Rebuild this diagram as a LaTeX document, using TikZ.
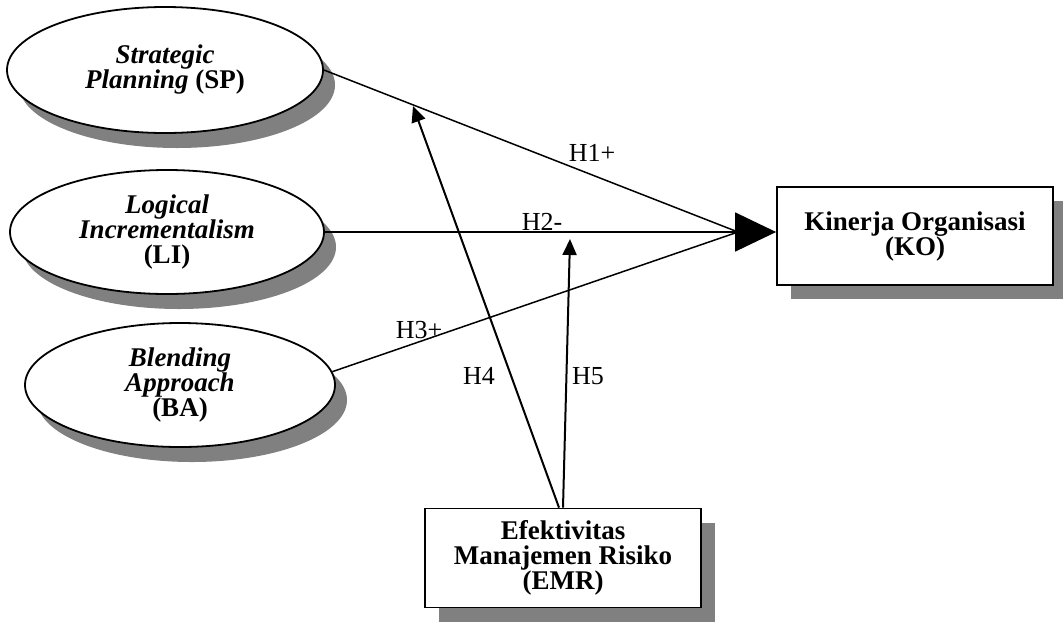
\documentclass[tikz,border=0pt]{standalone}
\usepackage{fontspec}
\setmainfont{Liberation Serif}
\usetikzlibrary{shapes.geometric,shadows,arrows.meta}

\begin{document}
\begin{tikzpicture}[x=0.5pt,y=-0.5pt,
  latent/.style={ellipse,draw,line width=0.9pt,fill=white,inner sep=0pt,align=center,
    minimum width=157pt,minimum height=62pt,
    drop shadow={shadow xshift=6pt,shadow yshift=-7.5pt,fill=black!50,opacity=1},
    font=\fontsize{13.5}{12.5}\selectfont\bfseries},
  construct/.style={rectangle,draw,line width=0.9pt,fill=white,inner sep=0pt,align=center,
    minimum width=138pt,minimum height=49pt,
    drop shadow={shadow xshift=7pt,shadow yshift=-7pt,fill=black!50,opacity=1},
    font=\fontsize{13.5}{12.5}\selectfont\bfseries},
  path/.style={line width=0.75pt},
  moderate/.style={line width=1pt,-{Triangle[length=8pt,width=7pt]}},
  hyp/.style={inner sep=0pt,font=\fontsize{13}{13}\selectfont}]
\useasboundingbox (0,0) rectangle (1063,622);

\node[latent,minimum width=158pt,minimum height=63pt] (sp) at (165,70) {\textit{Strategic}\\\textit{Planning} (SP)};
\node[latent] (li) at (167,232) {\textit{Logical}\\\textit{Incrementalism}\\(LI)};
\node[latent,minimum width=155pt] (ba) at (180,385) {\textit{Blending}\\\textit{Approach}\\(BA)};

\node[construct] (ko) at (915,236) {Kinerja Organisasi\\(KO)};
\node[construct,minimum height=49.5pt] (emr) at (563,558) {Efektivitas\\Manajemen Risiko\\(EMR)};

\coordinate (conv) at (738,232);
\coordinate (h4end) at (413,106);
\coordinate (h5end) at (570,239);

\draw[path] (sp.east) -- (conv);
\draw[path] (li.east) -- (conv);
\draw[path] (ba.5) -- (conv);
\draw[path,-{Triangle[length=20.5pt,width=19.5pt]}] (conv) -- (conv -| ko.west);

\draw[moderate] ([xshift=-2pt]emr.north) -- (h4end);
\draw[moderate] (emr.north) -- (h5end);

\node[hyp] (h1) at (592,153) {H1+};
\node[hyp] (h2) at (542,222) {H2-};
\node[hyp] (h3) at (419,330) {H3+};
\node[hyp] (h4) at (479,376) {H4};
\node[hyp] (h5) at (588,376) {H5};
\end{tikzpicture}
\end{document}
